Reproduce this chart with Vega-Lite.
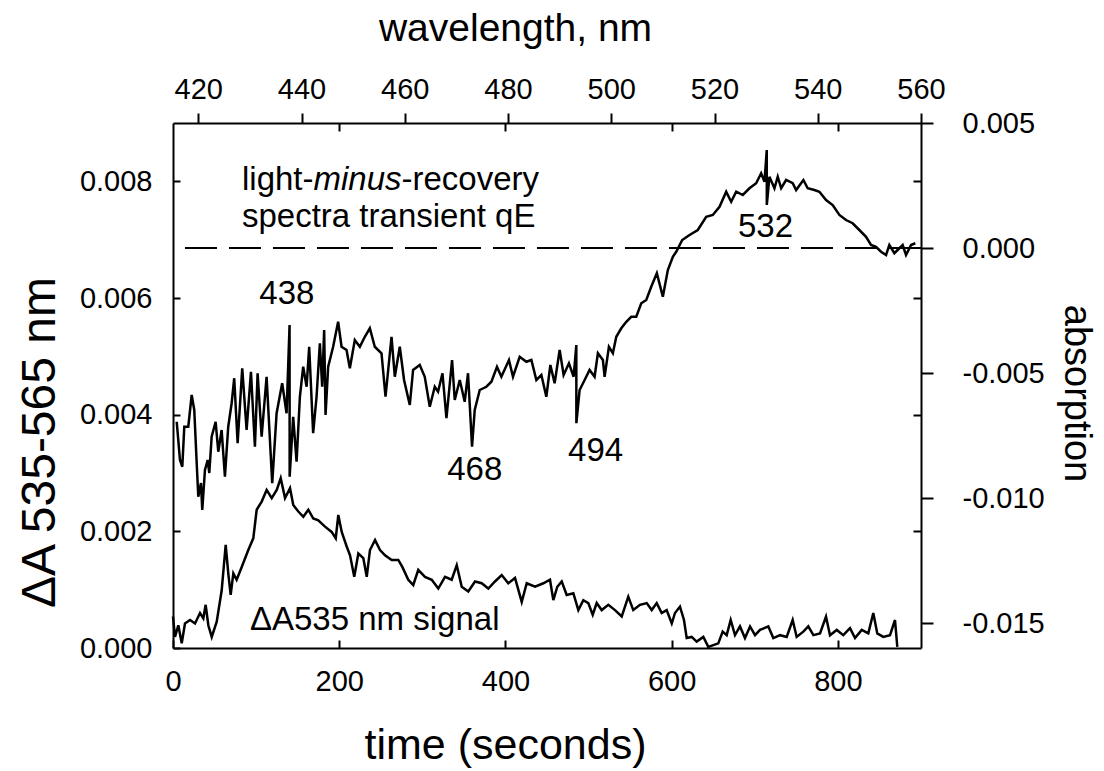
{
  "$schema": "https://vega.github.io/schema/vega-lite/v6.json",
  "width": 748,
  "height": 525,
  "autosize": {"type": "none"},
  "padding": {"left": 173, "top": 123, "right": 183, "bottom": 123},
  "background": "white",
  "config": {
    "view": {"stroke": null},
    "axis": {
      "grid": false,
      "domainColor": "black",
      "tickColor": "black",
      "labelColor": "black",
      "titleColor": "black",
      "labelFont": "Liberation Sans",
      "titleFont": "Liberation Sans",
      "labelFontSize": 29,
      "titleFontSize": 40,
      "titleFontWeight": "normal",
      "domainWidth": 2,
      "tickWidth": 2,
      "labelFlush": false,
      "labelOverlap": false,
      "labelBound": false
    },
    "text": {"font": "Liberation Sans"}
  },
  "datasets": {
    "signal": [
      {"t":0,"s":0.00054},{"t":2.4,"s":0.00019},{"t":6.4,"s":0.00039},{"t":10.5,"s":0.00008},{"t":14.4,"s":0.00042},{"t":20.5,"s":0.00048},{"t":26.5,"s":0.00042},{"t":32.5,"s":0.0006},{"t":36.5,"s":0.00051},{"t":39.3,"s":0.00074},{"t":42.5,"s":0.00039},{"t":46.6,"s":0.00019},{"t":52.6,"s":0.00045},{"t":58.6,"s":0.00099},{"t":63.4,"s":0.00177},{"t":66.5,"s":0.00128},{"t":69.4,"s":0.00091},{"t":72.6,"s":0.00128},{"t":76.6,"s":0.00117},{"t":82.7,"s":0.00139},{"t":90.6,"s":0.00168},{"t":96.6,"s":0.00188},{"t":100.7,"s":0.00237},{"t":106.7,"s":0.00251},{"t":112.7,"s":0.00271},{"t":118.8,"s":0.00257},{"t":124.8,"s":0.00271},{"t":129.6,"s":0.00291},{"t":134.8,"s":0.00257},{"t":140.8,"s":0.00274},{"t":144.7,"s":0.00245},{"t":150.8,"s":0.00234},{"t":156.8,"s":0.00225},{"t":162.8,"s":0.00237},{"t":168.8,"s":0.00222},{"t":174.8,"s":0.00219},{"t":182.9,"s":0.00208},{"t":190.9,"s":0.00199},{"t":195.8,"s":0.00188},{"t":198.9,"s":0.00228},{"t":203,"s":0.00199},{"t":209,"s":0.00174},{"t":213,"s":0.00159},{"t":218.1,"s":0.00122},{"t":223,"s":0.00162},{"t":229,"s":0.00154},{"t":233.1,"s":0.00122},{"t":237,"s":0.00168},{"t":243.1,"s":0.00185},{"t":249.1,"s":0.00168},{"t":255.1,"s":0.00159},{"t":263.1,"s":0.00151},{"t":271.1,"s":0.00151},{"t":275.9,"s":0.00139},{"t":283.1,"s":0.00117},{"t":289.1,"s":0.00108},{"t":295.1,"s":0.00134},{"t":303.2,"s":0.00122},{"t":311.3,"s":0.00117},{"t":319.2,"s":0.00102},{"t":327.3,"s":0.00122},{"t":335.3,"s":0.00117},{"t":341.4,"s":0.00142},{"t":347.4,"s":0.00105},{"t":355.3,"s":0.00097},{"t":363.4,"s":0.00114},{"t":371.4,"s":0.00111},{"t":379.4,"s":0.00102},{"t":387.4,"s":0.00114},{"t":395.5,"s":0.00125},{"t":403.4,"s":0.00111},{"t":411.5,"s":0.0012},{"t":419.6,"s":0.00079},{"t":425.6,"s":0.00111},{"t":435.6,"s":0.00105},{"t":445.6,"s":0.00111},{"t":453.6,"s":0.00117},{"t":457.6,"s":0.00082},{"t":462.4,"s":0.00105},{"t":467.7,"s":0.00114},{"t":473.7,"s":0.00091},{"t":481.7,"s":0.00094},{"t":487.7,"s":0.00065},{"t":493.7,"s":0.00082},{"t":499.7,"s":0.00077},{"t":505,"s":0.00057},{"t":509.8,"s":0.00077},{"t":515.8,"s":0.00065},{"t":523.8,"s":0.00074},{"t":531.8,"s":0.00065},{"t":539.9,"s":0.00054},{"t":547.8,"s":0.00088},{"t":553.8,"s":0.00065},{"t":561.9,"s":0.00074},{"t":570,"s":0.00077},{"t":576,"s":0.00065},{"t":582,"s":0.00077},{"t":588,"s":0.0006},{"t":594,"s":0.00065},{"t":600.1,"s":0.00042},{"t":604,"s":0.0006},{"t":610,"s":0.00071},{"t":614.8,"s":0.00048},{"t":618.1,"s":0.00017},{"t":624.1,"s":0.00019},{"t":630.1,"s":0.00011},{"t":638.1,"s":0.00019},{"t":644.1,"s":0.00002},{"t":650.1,"s":0.00005},{"t":656.1,"s":0.00008},{"t":661.4,"s":0.00028},{"t":666.2,"s":0.00022},{"t":671,"s":0.00048},{"t":676.2,"s":0.00022},{"t":682.2,"s":0.00037},{"t":688.2,"s":0.00017},{"t":694.3,"s":0.00037},{"t":700.3,"s":0.00022},{"t":706.3,"s":0.00031},{"t":716.3,"s":0.00037},{"t":722.3,"s":0.00017},{"t":730.4,"s":0.00022},{"t":738.4,"s":0.00019},{"t":745.6,"s":0.00048},{"t":750.4,"s":0.00019},{"t":758.4,"s":0.00028},{"t":764.4,"s":0.00037},{"t":770.5,"s":0.00022},{"t":778.5,"s":0.00025},{"t":785.7,"s":0.00054},{"t":790.5,"s":0.00022},{"t":798.6,"s":0.00031},{"t":806.5,"s":0.00022},{"t":814.6,"s":0.00034},{"t":820.6,"s":0.00017},{"t":828.7,"s":0.00031},{"t":836.6,"s":0.00025},{"t":842.6,"s":0.0006},{"t":847.4,"s":0.00025},{"t":854.6,"s":0.00019},{"t":862.7,"s":0.00022},{"t":868.7,"s":0.00048},{"t":871.5,"s":0.00002}
    ],
    "spectrum": [
      {"w":415.82,"a":-0.00695},{"w":416.45,"a":-0.00848},{"w":416.9,"a":-0.00875},{"w":417.29,"a":-0.00715},{"w":418.06,"a":-0.00715},{"w":418.72,"a":-0.00588},{"w":419.22,"a":-0.00648},{"w":419.69,"a":-0.0086},{"w":420.0,"a":-0.00995},{"w":420.52,"a":-0.0094},{"w":420.77,"a":-0.01048},{"w":421.29,"a":-0.00888},{"w":421.82,"a":-0.00848},{"w":422.13,"a":-0.009},{"w":422.59,"a":-0.00755},{"w":423.36,"a":-0.00695},{"w":423.87,"a":-0.00815},{"w":424.52,"a":-0.00728},{"w":425.16,"a":-0.00915},{"w":425.8,"a":-0.00715},{"w":426.46,"a":-0.00621},{"w":426.96,"a":-0.00521},{"w":427.62,"a":-0.00781},{"w":428.51,"a":-0.00481},{"w":429.36,"a":-0.00728},{"w":430.2,"a":-0.00495},{"w":430.97,"a":-0.00795},{"w":431.49,"a":-0.00501},{"w":432.27,"a":-0.00755},{"w":433.23,"a":-0.00515},{"w":434.32,"a":-0.00941},{"w":435.17,"a":-0.00661},{"w":436.25,"a":-0.00541},{"w":437.1,"a":-0.00661},{"w":437.68,"a":-0.00308},{"w":437.7,"a":-0.00915},{"w":438.38,"a":-0.00675},{"w":439.04,"a":-0.00855},{"w":439.68,"a":-0.00595},{"w":440.32,"a":-0.00475},{"w":440.98,"a":-0.00555},{"w":441.48,"a":-0.00395},{"w":442.25,"a":-0.00741},{"w":442.91,"a":-0.00595},{"w":443.55,"a":-0.00381},{"w":444.0,"a":-0.00555},{"w":444.38,"a":-0.00328},{"w":444.65,"a":-0.00668},{"w":445.16,"a":-0.00475},{"w":446.12,"a":-0.00395},{"w":447.09,"a":-0.00295},{"w":447.75,"a":-0.00395},{"w":448.72,"a":-0.00408},{"w":449.36,"a":-0.00481},{"w":450.32,"a":-0.00368},{"w":451.29,"a":-0.00395},{"w":452.26,"a":-0.00355},{"w":453.23,"a":-0.00321},{"w":454.19,"a":-0.00395},{"w":455.49,"a":-0.00421},{"w":456.27,"a":-0.00595},{"w":457.43,"a":-0.00355},{"w":458.07,"a":-0.00515},{"w":459.03,"a":-0.00395},{"w":459.86,"a":-0.00528},{"w":460.97,"a":-0.00628},{"w":461.61,"a":-0.00488},{"w":462.9,"a":-0.00468},{"w":463.87,"a":-0.00515},{"w":464.84,"a":-0.00635},{"w":465.81,"a":-0.00555},{"w":466.45,"a":-0.00575},{"w":467.3,"a":-0.00501},{"w":468.07,"a":-0.00681},{"w":469.16,"a":-0.00448},{"w":469.68,"a":-0.00608},{"w":470.65,"a":-0.00528},{"w":471.61,"a":-0.00615},{"w":472.25,"a":-0.00501},{"w":473.03,"a":-0.00795},{"w":473.55,"a":-0.00648},{"w":474.52,"a":-0.00568},{"w":475.81,"a":-0.00555},{"w":476.78,"a":-0.00535},{"w":477.86,"a":-0.00475},{"w":478.71,"a":-0.00515},{"w":480.18,"a":-0.00448},{"w":480.96,"a":-0.00515},{"w":482.26,"a":-0.00435},{"w":483.55,"a":-0.00455},{"w":484.52,"a":-0.00448},{"w":485.49,"a":-0.00528},{"w":486.46,"a":-0.00508},{"w":487.42,"a":-0.00595},{"w":488.2,"a":-0.00468},{"w":489.03,"a":-0.00541},{"w":490.0,"a":-0.00408},{"w":490.77,"a":-0.00508},{"w":491.8,"a":-0.00461},{"w":492.71,"a":-0.00515},{"w":493.23,"a":-0.00388},{"w":493.24,"a":-0.00701},{"w":493.87,"a":-0.00568},{"w":494.84,"a":-0.00528},{"w":495.8,"a":-0.00488},{"w":496.77,"a":-0.00515},{"w":497.41,"a":-0.00421},{"w":498.38,"a":-0.00448},{"w":498.71,"a":-0.00515},{"w":499.54,"a":-0.00395},{"w":500.31,"a":-0.00421},{"w":500.97,"a":-0.00355},{"w":501.94,"a":-0.00321},{"w":502.91,"a":-0.00295},{"w":503.87,"a":-0.00275},{"w":504.84,"a":-0.00275},{"w":505.81,"a":-0.00221},{"w":506.78,"a":-0.00208},{"w":507.74,"a":-0.00155},{"w":508.83,"a":-0.00101},{"w":509.99,"a":-0.00195},{"w":510.96,"a":-0.00088},{"w":511.93,"a":-0.00035},{"w":512.58,"a":-0.00015},{"w":513.74,"a":0.00032},{"w":515.16,"a":0.00052},{"w":516.76,"a":0.00072},{"w":518.39,"a":0.00125},{"w":519.67,"a":0.00132},{"w":520.97,"a":0.00165},{"w":522.26,"a":0.00225},{"w":523.23,"a":0.00185},{"w":524.2,"a":0.00225},{"w":525.48,"a":0.00212},{"w":526.77,"a":0.00239},{"w":528.07,"a":0.00259},{"w":529.03,"a":0.00299},{"w":529.68,"a":0.00265},{"w":530.12,"a":0.00392},{"w":530.13,"a":0.00172},{"w":530.64,"a":0.00285},{"w":531.61,"a":0.00239},{"w":532.25,"a":0.00285},{"w":532.91,"a":0.00239},{"w":533.87,"a":0.00272},{"w":535.15,"a":0.00259},{"w":535.81,"a":0.00232},{"w":537.22,"a":0.00272},{"w":538.05,"a":0.00239},{"w":539.35,"a":0.00232},{"w":540.32,"a":0.00225},{"w":541.61,"a":0.00192},{"w":542.89,"a":0.00172},{"w":544.19,"a":0.00132},{"w":545.48,"a":0.00112},{"w":546.76,"a":0.00099},{"w":548.06,"a":0.00072},{"w":549.35,"a":0.00045},{"w":550.32,"a":0.00012},{"w":551.29,"a":0.00005},{"w":552.26,"a":-0.00015},{"w":553.23,"a":-0.00028},{"w":553.87,"a":0.00012},{"w":554.84,"a":-0.00021},{"w":555.81,"a":-0.00001},{"w":556.45,"a":0.00012},{"w":557.1,"a":-0.00028},{"w":558.07,"a":0.00012},{"w":558.9,"a":0.00019}
    ]
  },
  "layer": [
    {
      "data": {"name": "signal"},
      "mark": {"type": "line", "color": "black", "strokeWidth": 2.5},
      "encoding": {
        "x": {"field": "t", "type": "quantitative", "scale": {"domain": [0, 900], "nice": false, "zero": false},
          "axis": {"orient": "bottom", "values": [0, 200, 400, 600, 800], "tickSize": -8, "labelPadding": 27,
            "title": "time (seconds)", "titleFontSize": 43, "titleX": 332, "titleY": 97, "titleAlign": "center", "titleBaseline": "middle", "titleAngle": 0}},
        "y": {"field": "s", "type": "quantitative", "scale": {"domain": [0, 0.009], "nice": false, "zero": false},
          "axis": {"orient": "left", "values": [0, 0.002, 0.004, 0.006, 0.008], "tickSize": -7, "labelPadding": 28,
            "labelExpr": "format(datum.value, '.3f')",
            "title": "ΔA 535-565 nm", "titleFontSize": 48, "titleX": -133, "titleY": 319, "titleAngle": 270, "titleAlign": "center", "titleBaseline": "middle"}}
      }
    },
    {
      "data": {"name": "spectrum"},
      "mark": {"type": "line", "color": "black", "strokeWidth": 2.5},
      "encoding": {
        "x": {"field": "w", "type": "quantitative", "scale": {"domain": [415.1, 560], "nice": false, "zero": false},
          "axis": {"orient": "top", "values": [420, 440, 460, 480, 500, 520, 540, 560], "tickSize": 10, "labelPadding": 9,
            "title": "wavelength, nm", "titleFontSize": 39, "titleX": 342, "titleY": -95, "titleAlign": "center", "titleBaseline": "middle", "titleAngle": 0}},
        "y": {"field": "a", "type": "quantitative", "scale": {"domain": [-0.016, 0.005], "nice": false, "zero": false},
          "axis": {"orient": "right", "values": [0.005, 0, -0.005, -0.01, -0.015], "tickSize": 12, "labelPadding": 29,
            "labelExpr": "replace(format(datum.value, '.3f'), '−', '-')",
            "title": "absorption", "titleFontSize": 38, "titleX": 154, "titleY": 270, "titleAngle": 90, "titleAlign": "center", "titleBaseline": "middle"}}
      }
    },
    {
      "data": {"name": "signal"},
      "mark": {"type": "line", "opacity": 0},
      "encoding": {
        "x": {"field": "t", "type": "quantitative", "scale": {"domain": [0, 900], "nice": false, "zero": false},
          "axis": {"orient": "top", "values": [200, 400, 600, 800], "tickSize": -8, "labels": false, "domain": false, "title": null}},
        "y": {"field": "s", "type": "quantitative", "scale": {"domain": [0, 0.009], "nice": false, "zero": false},
          "axis": {"orient": "right", "values": [0.002, 0.004, 0.006, 0.008], "tickSize": -8, "labels": false, "domain": false, "title": null}}
      }
    },
    {
      "data": {"values": [{}]},
      "mark": {"type": "rule", "color": "black", "strokeWidth": 2, "strokeDash": [32, 12]},
      "encoding": {
        "y": {"datum": 0, "type": "quantitative", "scale": {"domain": [-0.016, 0.005], "nice": false, "zero": false}, "axis": null}
      }
    },
    {
      "data": {"values": [
        {"t": 83.0, "s": 0.00802, "label": "light-"},
        {"t": 274.9, "s": 0.00802, "label": "-recovery"},
        {"t": 83.0, "s": 0.00739, "label": "spectra transient qE"},
        {"t": 92.6, "s": 0.00048, "label": "ΔA535 nm signal"}
      ]},
      "mark": {"type": "text", "align": "left", "baseline": "middle", "fontSize": 33, "color": "black"},
      "encoding": {
        "x": {"field": "t", "type": "quantitative", "scale": {"domain": [0, 900], "nice": false, "zero": false}, "axis": null},
        "y": {"field": "s", "type": "quantitative", "scale": {"domain": [0, 0.009], "nice": false, "zero": false}, "axis": null},
        "text": {"field": "label"}
      }
    },
    {
      "data": {"values": [{"t": 169.1, "s": 0.00802, "label": "minus"}]},
      "mark": {"type": "text", "align": "left", "baseline": "middle", "fontSize": 33, "fontStyle": "italic", "color": "black"},
      "encoding": {
        "x": {"field": "t", "type": "quantitative", "scale": {"domain": [0, 900], "nice": false, "zero": false}, "axis": null},
        "y": {"field": "s", "type": "quantitative", "scale": {"domain": [0, 0.009], "nice": false, "zero": false}, "axis": null},
        "text": {"field": "label"}
      }
    },
    {
      "data": {"values": [
        {"w": 437.16, "a": -0.00184, "label": "438"},
        {"w": 473.55, "a": -0.00888, "label": "468"},
        {"w": 496.97, "a": -0.00812, "label": "494"},
        {"w": 529.87, "a": 0.00084, "label": "532"}
      ]},
      "mark": {"type": "text", "align": "center", "baseline": "middle", "fontSize": 33, "color": "black"},
      "encoding": {
        "x": {"field": "w", "type": "quantitative", "scale": {"domain": [415.1, 560], "nice": false, "zero": false}, "axis": null},
        "y": {"field": "a", "type": "quantitative", "scale": {"domain": [-0.016, 0.005], "nice": false, "zero": false}, "axis": null},
        "text": {"field": "label"}
      }
    }
  ],
  "resolve": {
    "scale": {"x": "independent", "y": "independent"},
    "axis": {"x": "independent", "y": "independent"}
  }
}
